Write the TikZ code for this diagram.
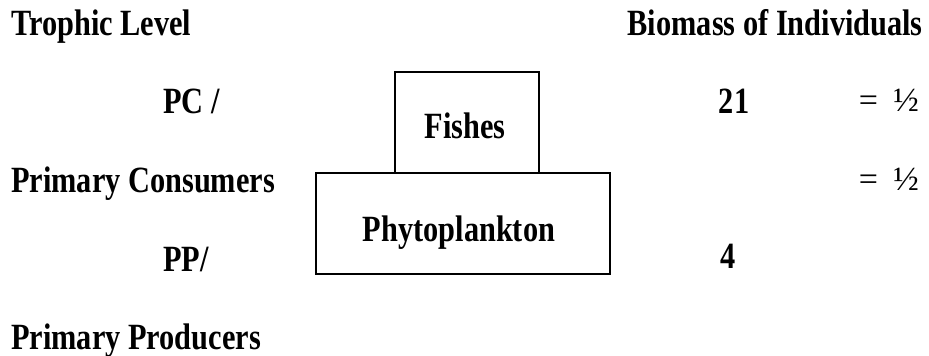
\documentclass[tikz,border=0pt]{standalone}
\usepackage{fontspec}
\setmainfont{Liberation Serif}[FakeStretch=0.82]
\newfontfamily\eqfont{Liberation Serif}
\begin{document}
\begin{tikzpicture}[x=1pt,y=-1pt,
  lbl/.style={inner sep=0pt,font=\fontsize{37}{44}\selectfont\bfseries},
  eqlbl/.style={inner sep=0pt,font=\eqfont\fontsize{34}{40}\selectfont},
  boxshape/.style={draw,line width=1.8pt,inner sep=0pt}]
\useasboundingbox (0,0) rectangle (929,356);
% headings
\node[lbl,anchor=base west] (trophic) at (11,35) {Trophic Level};
\node[lbl,anchor=base east] (biomass) at (923,35) {Biomass of Individuals};
% row labels
\node[lbl,anchor=base west] (pc) at (163,113) {PC /};
\node[lbl,anchor=base west] (pcons) at (11,192) {Primary Consumers};
\node[lbl,anchor=base west] (pp) at (163,271) {PP/};
\node[lbl,anchor=base west] (pprod) at (11,349) {Primary Producers};
% boxes
\node[boxshape,minimum width=144pt,minimum height=101pt] (fishbox) at (467,122.5) {};
\node[boxshape,minimum width=294pt,minimum height=101pt] (phytobox) at (463,223.5) {};
\node[lbl,anchor=base] (fishes) at (465,138) {Fishes};
\node[lbl,anchor=base] (phyto) at (459,241) {Phytoplankton};
% biomass values
\node[lbl,anchor=base] (v21) at (734,113) {21};
\node[lbl,anchor=base] (v4) at (728,268) {4};
\node[eqlbl,anchor=base east] (eq1) at (919,111) {=\hspace{0.45em}½};
\node[eqlbl,anchor=base east] (eq2) at (919,190) {=\hspace{0.45em}½};
\end{tikzpicture}
\end{document}
